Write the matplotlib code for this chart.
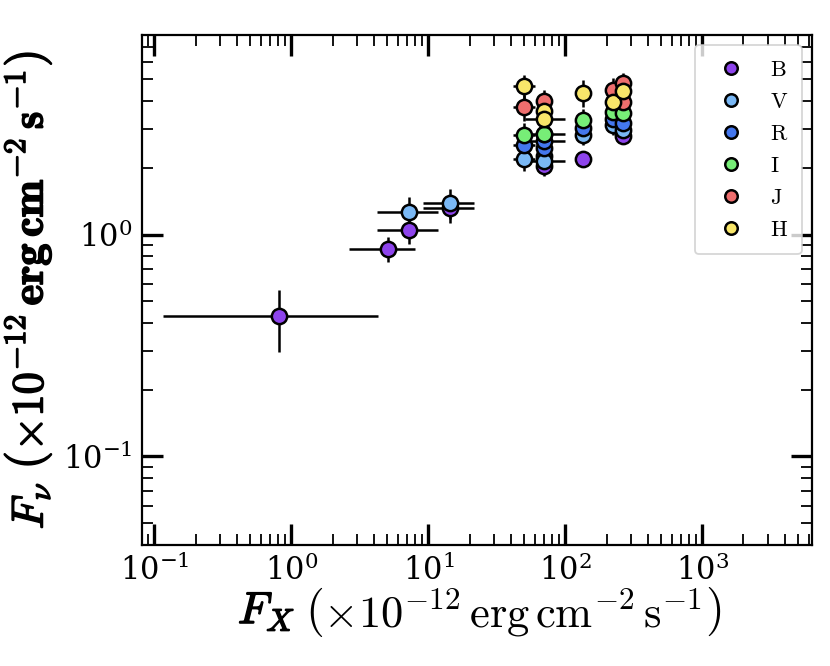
import numpy as np
import matplotlib
matplotlib.use('Agg')
from matplotlib import pyplot as plt
from matplotlib import patheffects
from matplotlib.lines import Line2D
from matplotlib.ticker import LogLocator, NullFormatter

# X-ray flux (x 1e-12 cgs), optical/NIR flux density, per band
bands = ['B', 'V', 'R', 'I', 'J', 'H']
colors = ['#8e44ec', '#7ab8f5', '#4477ee', '#77ee77', '#ee6e6e', '#f8e66a']

B_fx = [0.81, 5.1, 7.2, 14.3, 70, 135, 264]
B_fx_lo = [0.115, 2.64, 4.25, 9.15, 64, 128, 250]
B_fx_hi = [4.28, 8.0, 11.8, 21.6, 77, 142, 280]
B_fnu = [0.43, 0.86, 1.05, 1.31, 2.03, 2.19, 2.77]
B_err = [0.135, 0.11, 0.14, 0.18, 0.2, 0.15, 0.2]

V_fx = [7.2, 14.3, 50, 70, 70, 135, 223, 264]
V_fx_lo = [4.25, 9.15, 41.3, 64, 50.5, 128, 212, 250]
V_fx_hi = [11.8, 21.6, 59.8, 77, 99, 142, 235, 280]
V_fnu = [1.26, 1.39, 2.18, 2.25, 2.14, 2.82, 3.11, 2.97]
V_err = [0.22, 0.22, 0.25, 0.25, 0.25, 0.3, 0.3, 0.3]

R_fx = [50, 70, 70, 135, 223, 264]
R_fx_lo = [41.3, 64, 50.5, 128, 212, 250]
R_fx_hi = [59.8, 77, 99, 142, 235, 280]
R_fnu = [2.52, 2.46, 2.65, 3.02, 3.32, 3.18]
R_err = [0.3, 0.3, 0.3, 0.35, 0.35, 0.35]

I_fx = [50, 70, 70, 135, 223, 264]
I_fx_lo = [41.3, 64, 50.5, 128, 212, 250]
I_fx_hi = [59.8, 77, 99, 142, 235, 280]
I_fnu = [2.82, 2.85, 2.83, 3.27, 3.55, 3.53]
I_err = [0.35, 0.35, 0.35, 0.4, 0.4, 0.4]

J_fx = [50, 70, 223, 264, 264]
J_fx_lo = [41.3, 64, 212, 250, 250]
J_fx_hi = [59.8, 77, 235, 280, 280]
J_fnu = [3.76, 3.98, 4.5, 4.82, 3.96]
J_err = [0.5, 0.5, 0.55, 0.55, 0.5]

H_fx = [50, 70, 70, 135, 223, 264]
H_fx_lo = [41.3, 64, 50.5, 128, 212, 250]
H_fx_hi = [59.8, 77, 99, 142, 235, 280]
H_fnu = [4.66, 3.59, 3.30, 4.35, 3.96, 4.42]
H_err = [0.6, 0.5, 0.45, 0.6, 0.55, 0.6]

data = {
    'B': (B_fx, B_fx_lo, B_fx_hi, B_fnu, B_err),
    'V': (V_fx, V_fx_lo, V_fx_hi, V_fnu, V_err),
    'R': (R_fx, R_fx_lo, R_fx_hi, R_fnu, R_err),
    'I': (I_fx, I_fx_lo, I_fx_hi, I_fnu, I_err),
    'J': (J_fx, J_fx_lo, J_fx_hi, J_fnu, J_err),
    'H': (H_fx, H_fx_lo, H_fx_hi, H_fnu, H_err),
}

plt.rcParams['mathtext.fontset'] = 'cm'
plt.rcParams['font.family'] = 'serif'
plt.rcParams['font.serif'] = ['DejaVu Serif']

fig = plt.figure(figsize=(8.3, 6.66), dpi=100)
ax = fig.add_axes([0.171, 0.182, 0.807, 0.765])

handles = []
for b, c in zip(bands, colors):
    fx, lo, hi, fnu, err = [np.array(v, dtype=float) for v in data[b]]
    ax.errorbar(fx, fnu, xerr=[fx - lo, hi - fx], yerr=err, fmt='o',
                mfc=c, mec='k', mew=1.8, ms=11, ecolor='k', elinewidth=1.8,
                capsize=0)
    handles.append(Line2D([], [], ls='none', marker='o', mfc=c, mec='k', mew=1.8,
                          ms=9, label=r'$\mathrm{%s}$' % b))

ax.set_xscale('log')
ax.set_yscale('log')
ax.set_xlim(0.081, 6300)
ax.set_ylim(0.04, 7.9)

ax.xaxis.set_minor_locator(LogLocator(base=10, subs=np.arange(2, 10), numticks=20))
ax.yaxis.set_minor_locator(LogLocator(base=10, subs=np.arange(2, 10), numticks=20))
ax.xaxis.set_minor_formatter(NullFormatter())
ax.yaxis.set_minor_formatter(NullFormatter())
ax.tick_params(which='both', direction='in', top=True, right=True)
ax.tick_params(which='major', length=15, width=2.4, labelsize=22, pad=7)
ax.tick_params(which='minor', length=8, width=1.3)
for s in ax.spines.values():
    s.set_linewidth(1.6)

bold = [patheffects.withStroke(linewidth=1.1, foreground='k')]

# y label: everything bold
ax.set_ylabel(r'$\mathit{F_\nu}\ \mathbf{\left(\times 10^{-12}\,erg\,cm^{-2}\,s^{-1}\right)}$',
              fontsize=32, path_effects=bold)
ax.yaxis.set_label_coords(-0.132, 0.5)

# x label: bold F_X followed by regular units
units = fig.text(0.618, 0.058, r'$\left(\times 10^{-12}\,\mathrm{erg\,cm^{-2}\,s^{-1}}\right)$',
                 fontsize=32, ha='center', va='baseline')
ax.annotate(r'$F_X$', xy=(0, 0.12), xycoords=units, xytext=(-7, 0), textcoords='offset points',
            fontsize=32, ha='right', va='bottom', path_effects=bold)

leg = ax.legend(handles=handles, loc='upper right', fontsize=16, handletextpad=0.7,
                labelspacing=0.45, borderpad=0.6, handlelength=2.1, borderaxespad=0.45)
leg.get_frame().set_edgecolor('#cccccc')
leg.get_frame().set_linewidth(1.3)

fig.savefig('out.png', dpi=100)
